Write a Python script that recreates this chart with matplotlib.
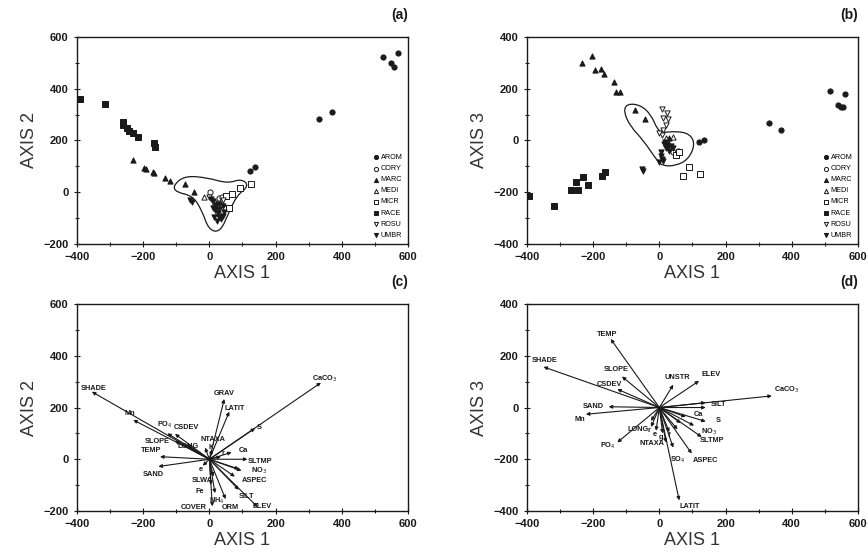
import matplotlib.pyplot as plt
from matplotlib.path import Path
from matplotlib.patches import PathPatch
from matplotlib.ticker import MultipleLocator

plt.rcParams['font.family'] = ['Liberation Sans', 'DejaVu Sans']

species = ['AROM', 'CORY', 'MARC', 'MEDI', 'MICR', 'RACE', 'ROSU', 'UMBR']

# panel (a): axis 1 vs axis 2
a_pts = {
    'AROM': ([525, 570, 548, 558, 332, 371, 123, 138],
             [524, 540, 499, 484, 283, 312, 84, 99]),
    'CORY': ([2, 30, 38, 18, 45, 25],
             [0, -22, -19, -45, -60, -80]),
    'MARC': ([-230, -197, -193, -170, -166, -135, -120, -74, -46],
             [125, 95, 91, 78, 76, 56, 45, 31, 2]),
    'MEDI': ([-15, 35],
             [-20, -35]),
    'MICR': ([126, 92, 68, 50, 58],
             [33, 17, -8, -15, -62]),
    'RACE': ([-392, -315, -262, -262, -250, -243, -232, -215, -168, -163],
             [362, 340, 272, 258, 250, 238, 228, 215, 190, 175]),
    'ROSU': ([0, 15, 40],
             [-20, -40, -30]),
    'UMBR': ([-52, -58, 5, 10, 20, 30, 25, 40, 15, 35, 45, 10, 30, 22, 40, 28, 18],
             [-39, -30, -25, -35, -50, -65, -80, -90, -95, -105, -75, -60, -45, -112, -55, -95, -70]),
}

# panel (b): axis 1 vs axis 3
b_pts = {
    'AROM': ([517, 561, 540, 548, 554, 330, 368, 119, 135],
             [192, 180, 137, 131, 129, 67, 41, -4, 3]),
    'CORY': ([40, 55, 30],
             [-45, -40, -25]),
    'MARC': ([-233, -202, -195, -175, -168, -137, -131, -119, -73, -42, 30, 25],
             [301, 325, 271, 278, 258, 228, 187, 188, 118, 82, 10, -5]),
    'MEDI': ([42, 20],
             [15, 10]),
    'MICR': ([70, 91, 123, 50, 60],
             [-137, -104, -129, -55, -45]),
    'RACE': ([-394, -318, -266, -253, -246, -232, -215, -172, -165],
             [-216, -255, -193, -162, -190, -143, -171, -139, -121]),
    'ROSU': ([7, 22, 12, 27, 20, 12, 7, 0],
             [121, 106, 86, 82, 61, 41, 22, 30]),
    'UMBR': ([-53, -50, 5, 8, 0, 5, 15, 25, 30, 20, 35, 10, 18, 40],
             [-111, -117, -60, -70, -85, -45, -15, -25, -40, -30, -20, -80, -5, -30]),
}

# group outlines (control polygons of a smooth closed curve)
a_hull_x = [-110, -75, -5, 55, 97, 120, 82, 58, 32, -2, -22, -50, -100]
a_hull_y = [25, 64, 56, 34, 52, 25, -14, -82, -155, -145, -72, -14, 0]
b_hull_x = [-98, -58, -25, -6, 12, 50, 92, 108, 88, 50, 8, -10, -48, -88, -108]
b_hull_y = [142, 138, 100, 42, 30, 36, 26, -15, -72, -98, -98, -72, 0, 55, 112]

# panel (c): biplot axis 1 vs axis 2
c_names = ['SHADE', 'Mn', 'PO$_4$', 'CSDEV', 'SLOPE', 'LONG', 'TEMP', 'SAND', 'NTAXA', 'K',
           'GRAV', 'LATIT', 'CaCO$_3$', 'S', 'Ca', 'SLTMP', 'NO$_3$', '', 'ASPEC', 'SILT',
           'ELEV', 'ORM', 'NH$_4$', 'COVER', 'Fe', 'SLWA', 'e', 'r']
c_x = [-355, -230, -127, -104, -104, -68, -149, -154, -13, 8,
       45, 60, 337, 138, 67, 115, 97, 90, 77, 89,
       146, 49, 17, 9, 5, 12, -20, 35]
c_y = [261, 152, 100, 98, 71, 58, 10, -28, 45, 38,
       233, 184, 296, 120, 27, 0, -44, -38, -67, -118,
       -185, -154, -131, -182, -99, -67, -25, 10]
# label anchors (layout only)
c_lab_x = [-349, -240, -136, -68, -158, -65, -176, -170, 11, 5,
           44, 77, 349, 150, 102, 153, 150, 0, 135, 111,
           159, 62, 23, -47, -28, -22, -25, 40]
c_lab_y = [275, 175, 132, 121, 67, 51, 32, -57, 75, 44,
           256, 198, 311, 121, 32, -10, -44, 0, -84, -142,
           -181, -185, -161, -185, -123, -84, -40, 22]

# panel (d): biplot axis 1 vs axis 3
d_names = ['TEMP', 'SHADE', 'SLOPE', 'CSDEV', 'SAND', 'Mn', 'UNSTR', 'ELEV', 'CaCO$_3$', 'SILT',
           '', 'Ca', 'S', 'NO$_3$', 'SLTMP', 'ASPEC', 'SO$_4$', 'LATIT', 'NTAXA', 'LONG',
           'PO$_4$', 'r', 'e', 'g', 'f', '', '']
d_x = [-147, -350, -113, -127, -153, -222, 42, 120, 340, 140,
       140, 80, 140, 105, 128, 98, 42, 60, 20, -25,
       -127, -25, -10, 10, 30, 55, 65]
d_y = [265, 157, 120, 71, 3, -26, 88, 103, 45, 19,
       0, -36, -54, -70, -114, -178, -155, -359, -135, -52,
       -135, -75, -90, -100, -95, -85, -60]
d_lab_x = [-158, -346, -131, -152, -201, -240, 53, 156, 385, 180,
           0, 117, 177, 150, 159, 138, 56, 92, -22, -65,
           -155, -30, -14, 6, 28, 0, 0]
d_lab_y = [283, 183, 148, 89, 4, -47, 117, 128, 70, 12,
           0, -27, -50, -93, -128, -206, -202, -382, -140, -85,
           -148, -88, -104, -114, -110, 0, 0]

markers = {
    'AROM': dict(marker='o', facecolor='#1a1a1a'),
    'CORY': dict(marker='o', facecolor='white'),
    'MARC': dict(marker='^', facecolor='#1a1a1a'),
    'MEDI': dict(marker='^', facecolor='white'),
    'MICR': dict(marker='s', facecolor='white'),
    'RACE': dict(marker='s', facecolor='#1a1a1a'),
    'ROSU': dict(marker='v', facecolor='white'),
    'UMBR': dict(marker='v', facecolor='#1a1a1a'),
}

ink = '#1a1a1a'

fig = plt.figure(figsize=(8.68, 5.54), dpi=100)
ax_a = fig.add_axes([0.0887, 0.5596, 0.3813, 0.3736])
ax_b = fig.add_axes([0.6071, 0.5596, 0.3813, 0.3736])
ax_c = fig.add_axes([0.0887, 0.0776, 0.3813, 0.3736])
ax_d = fig.add_axes([0.6071, 0.0776, 0.3813, 0.3736])


def style(ax, ylim, ylab, tag):
    ax.set_xlim(-400, 600)
    ax.set_ylim(*ylim)
    ax.xaxis.set_major_locator(MultipleLocator(200))
    ax.xaxis.set_minor_locator(MultipleLocator(100))
    ax.yaxis.set_major_locator(MultipleLocator(200))
    ax.yaxis.set_minor_locator(MultipleLocator(100))
    ax.tick_params(which='both', direction='inout', colors=ink, labelsize=8, width=0.8)
    ax.tick_params(which='major', length=5)
    ax.tick_params(which='minor', length=3)
    for lab in ax.get_xticklabels() + ax.get_yticklabels():
        lab.set_fontweight('bold')
    for s in ax.spines.values():
        s.set_color(ink)
        s.set_linewidth(1.0)
    ax.set_xlabel('AXIS 1', fontsize=13, color='#333333', labelpad=2)
    ax.set_ylabel(ylab, fontsize=13, color='#333333', labelpad=4)
    ax.text(1.0, 1.105, tag, transform=ax.transAxes, ha='right', va='center',
            fontsize=10, fontweight='bold', color=ink)


def closed_curve(px, py):
    # quadratic B-spline through the midpoints of the control polygon
    n = len(px)
    mids = [((px[i] + px[(i + 1) % n]) / 2, (py[i] + py[(i + 1) % n]) / 2) for i in range(n)]
    verts = [mids[-1]]
    for i in range(n):
        verts += [(px[i], py[i]), mids[i]]
    codes = [Path.MOVETO] + [Path.CURVE3] * (2 * n)
    return Path(verts, codes)


def scatter_panel(ax, pts, hx, hy):
    for sp in species:
        xs, ys = pts[sp]
        ax.scatter(xs, ys, s=14, marker=markers[sp]['marker'],
                   facecolor=markers[sp]['facecolor'], edgecolor=ink,
                   linewidth=0.7, label=sp, zorder=3)
    ax.add_patch(PathPatch(closed_curve(hx, hy), facecolor='none',
                           edgecolor=ink, linewidth=0.9, zorder=2))
    ax.legend(loc='lower right', frameon=False, fontsize=5.2, labelspacing=0.55,
              handletextpad=0.2, borderpad=0.25, markerscale=0.8, handlelength=1.0)


def biplot_panel(ax, names, xs, ys, lx, ly):
    for name, x, y, tx, ty in zip(names, xs, ys, lx, ly):
        ax.annotate('', xy=(x, y), xytext=(0, 0),
                    arrowprops=dict(arrowstyle='-|>', color=ink, lw=0.8,
                                    mutation_scale=5, shrinkA=0, shrinkB=0))
        if name:
            ax.text(tx, ty, name, ha='center', va='center', fontsize=5.3,
                    fontweight='bold', color=ink)


style(ax_a, (-200, 600), 'AXIS 2', '(a)')
style(ax_b, (-400, 400), 'AXIS 3', '(b)')
style(ax_c, (-200, 600), 'AXIS 2', '(c)')
style(ax_d, (-400, 400), 'AXIS 3', '(d)')

scatter_panel(ax_a, a_pts, a_hull_x, a_hull_y)
scatter_panel(ax_b, b_pts, b_hull_x, b_hull_y)
biplot_panel(ax_c, c_names, c_x, c_y, c_lab_x, c_lab_y)
biplot_panel(ax_d, d_names, d_x, d_y, d_lab_x, d_lab_y)

fig.savefig('out.png', dpi=100)
